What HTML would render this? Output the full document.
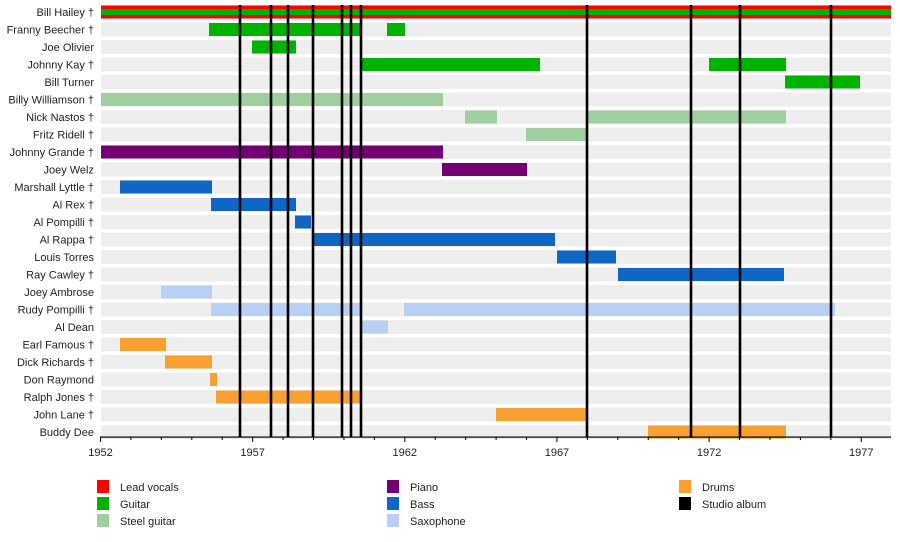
<!DOCTYPE html>
<html><head><meta charset="utf-8"><style>
body{margin:0;background:#fff;width:900px;height:537px;overflow:hidden}
text{font-family:"Liberation Sans",sans-serif;font-size:11px;fill:#222}
</style></head><body>
<svg width="900" height="537" xmlns="http://www.w3.org/2000/svg">
<g id="bands" fill="#eeeeee"></g>
<g id="bars"></g>
<g id="lines" fill="#000"></g>
<g id="labels"></g>
<g id="axis"></g>
<g id="legend"></g>
</svg>
<script>
const ns="http://www.w3.org/2000/svg";
function el(p,t,a,txt){const e=document.createElementNS(ns,t);for(const k in a)e.setAttribute(k,a[k]);if(txt!==undefined)e.textContent=txt;document.getElementById(p).appendChild(e);return e;}
const names=["Bill Hailey †","Franny Beecher †","Joe Olivier","Johnny Kay †","Bill Turner","Billy Williamson †","Nick Nastos †","Fritz Ridell †","Johnny Grande †","Joey Welz","Marshall Lyttle †","Al Rex †","Al Pompilli †","Al Rappa †","Louis Torres","Ray Cawley †","Joey Ambrose","Rudy Pompilli †","Al Dean","Earl Famous †","Dick Richards †","Don Raymond","Ralph Jones †","John Lane †","Buddy Dee"];
const C={r:"#ff0000",g:"#00b300",s:"#9fcf9f",p:"#720072",b:"#0f66c4",x:"#b8cff6",o:"#f8a032"};
const bars=[[],[[209,361,"g"],[387,405,"g"]],[[252,296,"g"]],[[361,540,"g"],[709,786,"g"]],[[785,860,"g"]],[[101,443,"s"]],[[465,497,"s"],[587,786,"s"]],[[526,588,"s"]],[[101,443,"p"]],[[442,527,"p"]],[[120,212,"b"]],[[211,296,"b"]],[[295,311,"b"]],[[314,555,"b"]],[[557,616,"b"]],[[618,784,"b"]],[[161,212,"x"]],[[211,361,"x"],[404,835,"x"]],[[361,388,"x"]],[[120,166,"o"]],[[165,212,"o"]],[[210,217,"o"]],[[216,361,"o"]],[[496,588,"o"]],[[648,786,"o"]]];
names.forEach((n,i)=>{const cy=12+17.5*i;
 el("bands","rect",{x:101,y:cy-7,width:790,height:14});
 el("labels","text",{x:94,y:cy+4,"text-anchor":"end"},n);
 bars[i].forEach(b=>el("bars","rect",{x:b[0],y:cy-6.5,width:b[1]-b[0],height:13,fill:C[b[2]]}));
});
el("bars","rect",{x:101,y:5.5,width:790,height:13,fill:C.r});
el("bars","rect",{x:101,y:9,width:790,height:6,fill:C.g});
[240,271,288,313,342,351,361,587,691,740,831].forEach(x=>el("lines","rect",{x:x-1.3,y:5,width:2.6,height:432}));
el("axis","rect",{x:100,y:436.5,width:791,height:1.2,fill:"#000"});
for(let y=0;y<=25;y++){const x=100.5+30.43*y;el("axis","rect",{x:x-0.5,y:437,width:1,height:y%5==0?5:3,fill:"#000"});
 if(y%5==0)el("axis","text",{x:x,y:456,"text-anchor":"middle"},1952+y);}
const L=[[97,487,"r","Lead vocals"],[97,504,"g","Guitar"],[97,521,"s","Steel guitar"],[387,487,"p","Piano"],[387,504,"b","Bass"],[387,521,"x","Saxophone"],[679,487,"o","Drums"],[679,504,"k","Studio album"]];
L.forEach(l=>{el("legend","rect",{x:l[0],y:l[1]-7,width:12,height:13,fill:l[2]=="k"?"#000":C[l[2]]});el("legend","text",{x:l[0]+23,y:l[1]+4},l[3]);});
</script>
</body></html>
